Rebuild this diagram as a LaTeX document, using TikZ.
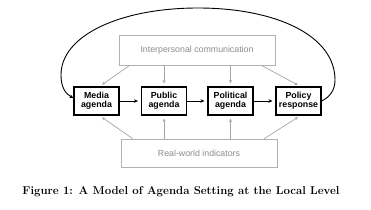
\documentclass[tikz,border=0pt]{standalone}
\usepackage{fontspec}
\newfontfamily\diagfont{Liberation Sans}
\usetikzlibrary{arrows.meta}
\begin{document}
\begin{tikzpicture}[x=1pt,y=-1pt,
  agbox/.style={draw=black,line width=1.1pt,minimum width=45pt,minimum height=28pt,inner sep=1pt,align=center,font=\diagfont\bfseries\fontsize{8.8}{9.2}\selectfont},
  graybox/.style={draw=black!30,line width=0.8pt,minimum width=156pt,inner sep=1pt,text=black!45,font=\diagfont\fontsize{8.8}{10}\selectfont},
  blackarrow/.style={-{Stealth[length=4pt,width=3.5pt]},line width=0.9pt,shorten >=3pt},
  grayarrow/.style={-{Stealth[length=3.5pt,width=3pt]},draw=black!35,line width=0.7pt,shorten >=3pt}]
\useasboundingbox (0,0) rectangle (371,209);
\fill[white] (0,0) rectangle (371,209);
\node[graybox,minimum height=30pt] (ip) at (197,50) {Interpersonal communication};
\node[graybox,minimum height=28pt] (rw) at (199,153) {Real-world indicators};
\node[agbox] (med) at (96.5,101) {Media\\agenda};
\node[agbox] (pub) at (164,101) {Public\\agenda};
\node[agbox] (pol) at (230.5,101) {Political\\agenda};
\node[agbox] (res) at (298.5,101) {Policy\\response};
\draw[blackarrow] (med) -- (pub);
\draw[blackarrow] (pub) -- (pol);
\draw[blackarrow] (pol) -- (res);
\draw[grayarrow] ([xshift=11pt]ip.south west) -- ([xshift=3pt]med.north);
\draw[grayarrow] (ip.south -| pub.north) -- (pub.north);
\draw[grayarrow] (ip.south -| pol.north) -- (pol.north);
\draw[grayarrow] ([xshift=-14pt]ip.south east) -- ([xshift=2pt]res.north);
\draw[grayarrow] ([xshift=12pt]rw.north west) -- ([xshift=3pt]med.south);
\draw[grayarrow] (rw.north -| pub.south) -- (pub.south);
\draw[grayarrow] (rw.north -| pol.south) -- (pol.south);
\draw[grayarrow] ([xshift=-13pt]rw.north east) -- ([xshift=2pt]res.south);
\draw[-{Stealth[length=4pt,width=3.5pt]},line width=0.9pt] (res.east) .. controls (330,97) and (335,90) .. (335,80) .. controls (335,35) and (275,8) .. (198,8) .. controls (121,8) and (61,35) .. (61,75) .. controls (61,88) and (66,94) .. ([yshift=3pt]med.west);
\node[font=\bfseries\fontsize{11.4}{13}\selectfont] (cap) at (181,192) {Figure \oldstylenums{1}: A Model of Agenda Setting at the Local Level};
\end{tikzpicture}
\end{document}
